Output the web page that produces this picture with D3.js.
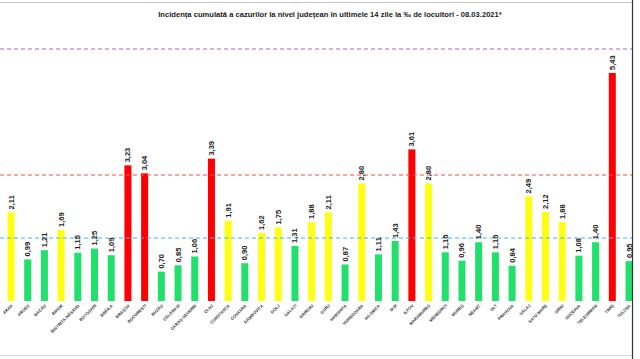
<!DOCTYPE html>
<html><head><meta charset="utf-8">
<script src="https://cdn.jsdelivr.net/npm/d3@7"></script>
<style>html,body{margin:0;padding:0;background:#fff;}svg{display:block;}</style>
</head><body>
<svg id="c" width="640" height="359"></svg>
<script>
const counties = ["ARAD","ARGEȘ","BACĂU","BIHOR","BISTRIȚA-NĂSĂUD","BOTOȘANI","BRĂILA","BRAȘOV","BUCUREȘTI","BUZĂU","CĂLĂRAȘI","CARAȘ-SEVERIN","CLUJ","CONSTANȚA","COVASNA","DÂMBOVIȚA","DOLJ","GALAȚI","GIURGIU","GORJ","HARGHITA","HUNEDOARA","IALOMIȚA","IAȘI","ILFOV","MARAMUREȘ","MEHEDINȚI","MUREȘ","NEAMȚ","OLT","PRAHOVA","SĂLAJ","SATU MARE","SIBIU","SUCEAVA","TELEORMAN","TIMIȘ","TULCEA"];
const values = [2.11,0.99,1.21,1.69,1.15,1.25,1.09,3.23,3.04,0.70,0.85,1.06,3.39,1.91,0.90,1.62,1.75,1.31,1.88,2.11,0.87,2.80,1.11,1.43,3.61,2.80,1.16,0.96,1.40,1.16,0.84,2.49,2.12,1.88,1.08,1.40,5.43,0.95];
const thresholds = [1.5, 3, 6];
const thresholdColors = ["#3fb6ea","#f0504f","#9b6fd0"];
const title = "Incidența cumulată a cazurilor la nivel județean în ultimele 14 zile la ‰ de locuitori - 08.03.2021*";

const svg = d3.select("#c");
const x = d3.scalePoint().domain(counties).range([11, 629]);
const y = d3.scaleLinear().domain([0, 6]).range([301, 49]);
const color = v => v > 3 ? "#ff0000" : (v >= 1.5 ? "#ffff14" : "#22e06c");
const barW = 7;

// frame lines
svg.append("line").attr("x1",0).attr("x2",632).attr("y1",2.5).attr("y2",2.5).attr("stroke","#c8c8c8").attr("stroke-width",1);
svg.append("line").attr("x1",0).attr("x2",632).attr("y1",355.5).attr("y2",355.5).attr("stroke","#d8d8d8").attr("stroke-width",1);

svg.append("text").attr("x",330).attr("y",17).attr("text-anchor","middle")
  .attr("font-family","'Liberation Sans', Arial, sans-serif").attr("font-size",7.6).attr("font-weight","bold")
  .attr("fill","#222").text(title);

// bars
const data = counties.map((c,i)=>({c, v: values[i]}));
svg.append("g").selectAll("rect").data(data).join("rect")
  .attr("x", d => x(d.c) - barW/2).attr("width", barW)
  .attr("y", d => y(d.v)).attr("height", d => y(0) - y(d.v))
  .attr("fill", d => color(d.v));

// threshold lines
svg.append("g").selectAll("line").data(thresholds).join("line")
  .attr("x1",0).attr("x2",632).attr("y1",d=>y(d)).attr("y2",d=>y(d))
  .attr("stroke",(d,i)=>thresholdColors[i]).attr("stroke-width",1.2).attr("stroke-dasharray","4,3");

// value labels
svg.append("g").selectAll("text").data(data).join("text")
  .attr("transform", d => `translate(${x(d.c)+2.5},${y(d.v)-3}) rotate(-90)`)
  .attr("font-family","'Liberation Sans', Arial, sans-serif").attr("font-size",7.5).attr("font-weight","bold")
  .attr("fill","#222").text(d => d.v.toFixed(2).replace(".",","));

// category labels
svg.append("g").selectAll("text").data(counties).join("text")
  .attr("transform", d => `translate(${x(d)+2},${y(0)+5}) rotate(-45)`)
  .attr("text-anchor","end")
  .attr("font-family","'Liberation Sans', Arial, sans-serif").attr("font-size",4.2).attr("font-weight","bold")
  .attr("fill","#333").text(d => d);

// right border line
svg.append("line").attr("x1",632.5).attr("x2",632.5).attr("y1",0).attr("y2",359).attr("stroke","#333").attr("stroke-width",1.2);
</script>
</body></html>
